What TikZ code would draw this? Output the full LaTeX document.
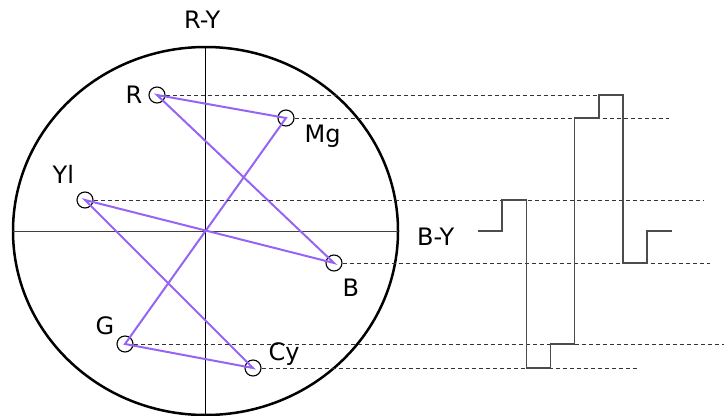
\documentclass[tikz,border=0pt]{standalone}
\usepackage{fontspec}
\setmainfont{DejaVu Sans}
\definecolor{vecpurple}{RGB}{150,100,245}
\begin{document}
\begin{tikzpicture}[x=1pt,y=-1pt,
  lbl/.style={anchor=base west,inner sep=0pt,font=\fontsize{24}{24}\selectfont},
  pt/.style={circle,draw=black,line width=1.1pt,minimum size=16pt,inner sep=0pt},
  vec/.style={draw=vecpurple,line width=2pt},
  guide/.style={draw=black!80,line width=1pt,dash pattern=on 4pt off 3pt},
  wave/.style={draw=black!70,line width=1.5pt},
  axis/.style={draw=black,line width=1pt}]
\useasboundingbox (0,0) rectangle (727,415);
% scope circle and axes
\draw[line width=2.5pt] (205.5,231) ellipse [x radius=192.5, y radius=184];
\coordinate (top) at (205,47);
\coordinate (bot) at (205,415);
\coordinate (lft) at (13,231);
\coordinate (rgt) at (398,231);
\draw[axis] (top) -- (bot);
\draw[axis,draw=black!75] (lft) -- (rgt);
% colour points
\node[pt] (R)  at (157,95)  {};
\node[pt] (Mg) at (286,118) {};
\node[pt] (Yl) at (85,200)  {};
\node[pt] (B)  at (334,263) {};
\node[pt] (G)  at (125,344) {};
\node[pt] (Cy) at (253,368) {};
% vector path
\draw[vec] (R.center) -- (Mg.center) -- (G.center) -- (Cy.center) -- (Yl.center) -- (B.center) -- cycle;
% guide lines
\coordinate (eR)  at (623,95);
\coordinate (eMg) at (669,118);
\coordinate (eYl) at (704,200);
\coordinate (eB)  at (710,263);
\coordinate (eG)  at (724,344);
\coordinate (eCy) at (637,368);
\draw[guide] (R.east) -- (eR);
\draw[guide] (Mg.east) -- (eMg);
\draw[guide] (Yl.east) -- (eYl);
\draw[guide] (B.east) -- (eB);
\draw[guide] (G.east) -- (eG);
\draw[guide] (Cy.east) -- (eCy);
% B-Y waveform
\draw[wave] (478,231) -- (502,231) -- (502,200) -- (526.5,200) -- (526.5,368)
  -- (550.5,368) -- (550.5,344) -- (574.5,344) -- (574.5,118) -- (599,118)
  -- (599,95) -- (623,95) -- (623,263) -- (647,263) -- (647,231) -- (671.5,231);
% labels
\node[lbl] (lRY) at (184,28.3) {R-Y};
\node[lbl] (lBY) at (417,245) {B-Y};
\node[lbl] (lR)  at (125.5,103.3) {R};
\node[lbl] (lMg) at (304.5,142) {Mg};
\node[lbl] (lYl) at (52.5,183) {Yl};
\node[lbl] (lB)  at (342.5,296) {B};
\node[lbl] (lG)  at (95.5,334) {G};
\node[lbl] (lCy) at (268.5,360) {Cy};
\end{tikzpicture}
\end{document}
